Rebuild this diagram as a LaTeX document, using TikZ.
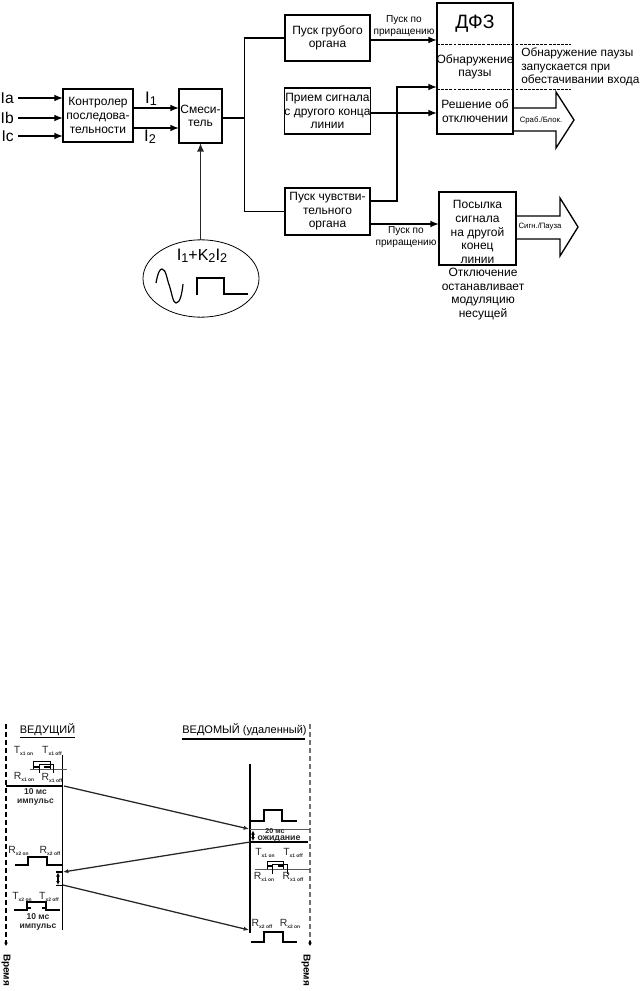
\documentclass[tikz,border=0pt]{standalone}
\usepackage{fontspec}
\setmainfont{Liberation Sans}
\usetikzlibrary{arrows.meta,shapes.geometric}
\newcommand{\fsz}[1]{\fontsize{#1}{#1}\selectfont}
\newcommand{\cur}[2]{{\fontsize{12.5pt}{13pt}\selectfont #1}\raisebox{-1.5pt}{\fontsize{9.5pt}{10pt}\selectfont #2}}
\newcommand{\sig}[2]{{\fontsize{7.8pt}{8pt}\selectfont #1}\raisebox{-1.5pt}{\fontsize{3.7pt}{4pt}\selectfont\bfseries #2}}
\tikzset{
  box/.style={draw,line width=1pt,align=center,inner sep=0pt,outer sep=0pt,font=\fontsize{9pt}{10.2pt}\selectfont},
  arr/.style={line width=1pt,-{Latex[length=6.5pt,width=5pt]}},
  wire/.style={line width=1pt},
  txt/.style={align=center,inner sep=0pt,font=\fontsize{9pt}{10.2pt}\selectfont},
  small/.style={align=center,inner sep=0pt,font=\fontsize{7.6pt}{9pt}\selectfont},
  tiny/.style={align=center,inner sep=0pt,font=\fontsize{5.8pt}{7pt}\selectfont},
  bigarrow/.style={line width=1pt},
  dashln/.style={line width=0.9pt,dash pattern=on 2.2pt off 0.9pt},
  hdr/.style={inner sep=0pt,font=\fontsize{8.25pt}{9pt}\selectfont},
  boldt/.style={align=center,inner sep=0pt,text=black!85},
  axis/.style={line width=0.9pt},
  pulse/.style={line width=0.9pt},
  thinp/.style={line width=0.6pt,black!65},
  tick/.style={line width=0.8pt,{Latex[length=3pt,width=3pt]}-{Latex[length=3pt,width=3pt]}},
  sigl/.style={inner sep=0pt,text=black!85},
  timeaxis/.style={line width=0.8pt,dash pattern=on 3.5pt off 2.5pt},
  timearr/.style={line width=0.8pt,-{Latex[length=2.5pt,width=3pt]}},
  vtext/.style={rotate=-90,inner sep=0pt,font=\fontsize{7.5pt}{8pt}\selectfont\bfseries}
}
\begin{document}
\begin{tikzpicture}[x=0.75pt,y=-0.75pt]
\useasboundingbox (0,0) rectangle (642,991);
% ---------- upper block diagram ----------
\node[box,minimum width=52.5pt,minimum height=39.75pt] (kontr) at (98,115.5) {Контролер\\последова-\\тельности};
\node[box,minimum width=32.25pt,minimum height=40.5pt] (mix) at (200.5,116) {Смеси-\\тель};
\node[box,minimum width=63.75pt,minimum height=34.5pt] (grub) at (327.5,38) {Пуск грубого\\органа};
\node[box,minimum width=63.75pt,minimum height=34.5pt] (priem) at (327.5,111) {Прием сигнала\\с другого конца\\линии};
\node[box,minimum width=63.75pt,minimum height=35.25pt] (chuv) at (327.5,211.5) {Пуск чувстви-\\тельного\\органа};
\node[box,minimum width=57pt,minimum height=98.25pt] (dfz) at (475,68.5) {};
\node[box,minimum width=57.75pt,minimum height=54.75pt] (pos) at (477.5,228.5) {};
\node[inner sep=0pt,font=\fontsize{14.5pt}{15pt}\selectfont] (dfzt) at (475,24) {ДФЗ};
\node[txt] (obn) at (475,67) {Обнаружение\\паузы};
\node[txt] (resh) at (475,111) {Решение об\\отключении};
\node[txt] (post) at (477.5,232) {Посылка\\сигнала\\на другой\\конец\\линии};
\node[inner sep=0pt,anchor=east,font=\fontsize{11.7pt}{13pt}\selectfont] (ia) at (14,98) {Ia};
\node[inner sep=0pt,anchor=east,font=\fontsize{11.7pt}{13pt}\selectfont] (ib) at (14,118) {Ib};
\node[inner sep=0pt,anchor=east,font=\fontsize{11.7pt}{13pt}\selectfont] (ic) at (14,136) {Ic};
\draw[arr] ([xshift=3pt]ia.east) -- (kontr.west |- ia.east);
\draw[arr] ([xshift=3pt]ib.east) -- (kontr.west |- ib.east);
\draw[arr] ([xshift=3pt]ic.east) -- (kontr.west |- ic.east);
\node[inner sep=0pt] (i1) at (151,98.5) {\cur{I}{1}};
\node[inner sep=0pt] (i2) at (150,137) {\cur{I}{2}};
\draw[arr] (kontr.east |- 0,108) -- (mix.west |- 0,108);
\draw[arr] (kontr.east |- 0,128) -- (mix.west |- 0,128);
\coordinate (bus) at (244.5,118);
\draw[wire] (mix.east |- bus) -- (bus);
\draw[wire] (grub.west) -| (bus) |- (chuv.west);
\node[small] (pp1) at (404,26) {Пуск по\\приращению};
\node[small] (pp2) at (406,237) {Пуск по\\приращению};
\draw[arr] (grub.east |- 0,40) -- (dfz.west |- 0,40);
\draw[arr] (priem.east |- 0,113) -- (dfz.west |- 0,113);
\coordinate (riser) at (397,87);
\draw[arr] (chuv.east |- 0,201) -| (riser) -- (dfz.west |- riser);
\draw[arr] (chuv.east |- 0,224) -- (pos.west |- 0,224);
\coordinate (dash1) at (571,44.5);
\coordinate (dash2) at (571,89.5);
\draw[dashln] (dfz.west |- dash1) -- (dash1);
\draw[dashln] (dfz.west |- dash2) -- (dash2);
\node[inner sep=0pt,align=left,anchor=west,font=\fontsize{8.9pt}{9.9pt}\selectfont] (note) at (521,67) {Обнаружение паузы\\запускается при\\обестачивании входа};
\draw[bigarrow] (dfz.east |- 0,108) -- (556,108) -- (556,92) -- (574,120) -- (556,148) -- (556,131) -- (dfz.east |- 0,131);
\node[tiny] (srab) at (541,120) {Сраб./Блок.};
\draw[bigarrow] (pos.east |- 0,216) -- (560,216) -- (560,198) -- (578,227) -- (560,256) -- (560,239) -- (pos.east |- 0,239);
\node[tiny] (sign) at (540,227) {Сигн./Пауза};
\node[txt] (otkl) at (483,294) {Отключение\\останавливает\\модуляцию\\несущей};
% oscillator ellipse
\node[ellipse,draw,line width=0.6pt,minimum width=87pt,minimum height=58pt,inner sep=0pt,outer sep=0pt] (osc) at (201,278.5) {};
\node[inner sep=0pt] (form) at (202,256) {\cur{I}{1}{\fontsize{12pt}{13pt}\selectfont +K}\raisebox{-1.5pt}{\fontsize{9.5pt}{10pt}\selectfont 2}\cur{I}{2}};
\draw[line width=1.3pt,black!85,-{Latex[length=6.5pt,width=5.5pt]}] (mix.south |- osc.north) -- (mix.south);
\draw[line width=0.9pt] (156,283) .. controls (158,272) and (160,269) .. (162,269) .. controls (166,269) and (167,280) .. (169.5,286) .. controls (172,294) and (173,303) .. (176,303) .. controls (180,303) and (182,294) .. (183,284);
\draw[line width=0.9pt] (197,294.5) -- (197,278) -- (224,278) -- (224,294) -- (248,294);
% ---------- timing diagram ----------
\node[hdr] (ved) at (47.5,730) {ВЕДУЩИЙ};
\node[hdr] (slv) at (244.5,730) {ВЕДОМЫЙ (удаленный)};
\draw[line width=0.9pt] (ved.west |- 0,737.5) -- (ved.east |- 0,737.5);
\draw[line width=0.9pt] (182,739) -- (305,739);
\coordinate (ltop) at (62.5,755);
\coordinate (lbot) at (62.5,930);
\coordinate (rtop) at (250,764);
\coordinate (rbot) at (250,933);
\draw[axis] (ltop) -- (lbot);
\draw[axis,line width=1pt] (rtop) -- (rbot);
\coordinate (ls1) at (64,786);
\coordinate (re1) at (249,829);
\coordinate (rs2) at (250,842);
\coordinate (le2) at (63,872);
\coordinate (ls3) at (63,885);
\coordinate (re3) at (249,930);
\draw[line width=0.95pt,black!85,-{Latex[length=4pt,width=3.2pt]}] (ls1) -- (re1);
\draw[line width=0.95pt,black!85,-{Latex[length=4pt,width=3.2pt]}] (rs2) -- (le2);
\draw[line width=0.95pt,black!85,-{Latex[length=4pt,width=3.2pt]}] (ls3) -- (re3);
% time axes
\coordinate (tl1) at (6,724);
\coordinate (tl2) at (6,946);
\coordinate (tr1) at (310,724);
\coordinate (tr2) at (310,946);
\draw[timeaxis] (tl1) -- (6,941);
\draw[timearr] (6,941) -- (tl2);
\draw[timeaxis,black!55,line width=1pt] (tr1) -- (310,941);
\draw[timearr] (310,941) -- (tr2);
\node[vtext] (tml) at (6,970) {Время};
\node[vtext] (tmr) at (306,970) {Время};
% master: first pulse
\draw[thinp] (30,769) -- (67,769);
\draw[pulse,line width=0.7pt] (33,769) -- (33,761) -- (50,761) -- (50,769);
\draw[pulse,line width=0.7pt] (39,773) -- (39,764) -- (53,764) -- (53,773);
\draw[line width=0.8pt] (33,767) -- (39,767) (44,767) -- (50,767);
\node[sigl] (t1a) at (23.5,751) {\sig{T}{x1 on}};
\node[sigl] (t1b) at (52,751) {\sig{T}{x1 off}};
\node[sigl] (r1a) at (24,777) {\sig{R}{x1 on}};
\node[sigl] (r1b) at (52,778) {\sig{R}{x1 off}};
\draw[line width=0.8pt] (6,786) -- (62.5,786);
\node[boldt,font=\fontsize{6.4pt}{6.6pt}\selectfont\bfseries] (p1) at (35.5,796.5) {10 мс\\импульс};
% master: return pulse
\draw[pulse] (15,865) -- (28,865) -- (28,857) -- (47,857) -- (47,865) -- (62,865);
\node[sigl] (r2a) at (18.5,851) {\sig{R}{x2 on}};
\node[sigl] (r2b) at (50,851) {\sig{R}{x2 off}};
\draw[line width=0.9pt] (56,872) -- (62,872);
\draw[line width=0.9pt] (56,885.5) -- (62,885.5);
\draw[tick] (58,872.5) -- (58,885);
\node[sigl] (t2a) at (22,897) {\sig{T}{x2 on}};
\node[sigl] (t2b) at (49,897) {\sig{T}{x2 off}};
\draw[pulse] (14,910) -- (27,910) -- (27,902) -- (46,902) -- (46,910) -- (60,910);
\draw[line width=0.8pt] (27,908) -- (31,908) (42,908) -- (46,908);
\node[boldt,font=\fontsize{6.4pt}{6.6pt}\selectfont\bfseries] (p2) at (38,921.5) {10 мс\\импульс};
% slave
\draw[pulse] (250,821) -- (264,821) -- (264,810) -- (282,810) -- (282,821) -- (297,821);
\draw[thinp] (250,829) -- (310,829);
\draw[line width=1pt] (250,842) -- (308,842);
\draw[tick] (253,830.5) -- (253,841);
\node[boldt,font=\fontsize{5.4pt}{6pt}\selectfont\bfseries] (w1) at (275,831) {20 мс};
\node[boldt,font=\fontsize{6.6pt}{7pt}\selectfont\bfseries] (w2) at (279,838.5) {ожидание};
\node[sigl] (t3a) at (265,853) {\sig{T}{x1 on}};
\node[sigl] (t3b) at (293,853) {\sig{T}{x1 off}};
\draw[thinp] (255,869) -- (310,869);
\draw[pulse,line width=0.7pt] (267,869) -- (267,861) -- (283,861) -- (283,869);
\draw[pulse,line width=0.7pt] (272,874) -- (272,864) -- (287,864) -- (287,874);
\draw[line width=0.8pt] (267,866) -- (272,866) (278,866) -- (283,866);
\node[sigl] (r3a) at (264,877) {\sig{R}{x1 on}};
\node[sigl] (r3b) at (293,877) {\sig{R}{x1 off}};
\node[sigl] (r4a) at (262,924) {\sig{R}{x2 off}};
\node[sigl] (r4b) at (290,924) {\sig{R}{x2 on}};
\draw[pulse] (251,942) -- (264,942) -- (264,932) -- (283,932) -- (283,942) -- (297,942);
\end{tikzpicture}
\end{document}
